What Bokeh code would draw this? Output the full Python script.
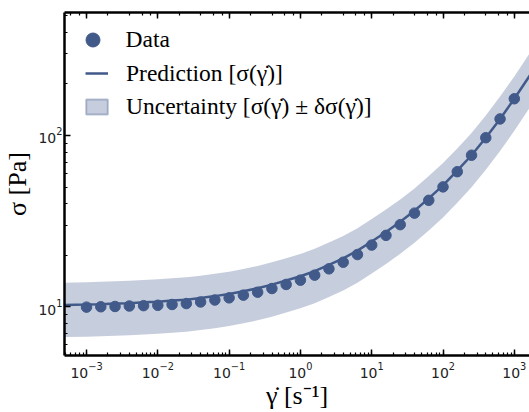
from bokeh.plotting import figure
from bokeh.models import Range1d, LogAxis, Legend, LegendItem
from bokeh.embed import file_html
from bokeh.resources import INLINE

# ---- data ----
shear_rate = [1.000e-3, 1.585e-3, 2.512e-3, 3.981e-3, 6.310e-3,
              1.000e-2, 1.585e-2, 2.512e-2, 3.981e-2, 6.310e-2,
              1.000e-1, 1.585e-1, 2.512e-1, 3.981e-1, 6.310e-1,
              1.000e0, 1.585e0, 2.512e0, 3.981e0, 6.310e0,
              1.000e1, 1.585e1, 2.512e1, 3.981e1, 6.310e1,
              1.000e2, 1.585e2, 2.512e2, 3.981e2, 6.310e2, 1.000e3]
stress_data = [9.96, 10.01, 10.05, 10.11, 10.16, 10.21, 10.32, 10.45, 10.68, 10.96,
               11.28, 11.70, 12.17, 12.79, 13.51, 14.31, 15.31, 16.66, 18.21, 20.19,
               22.93, 26.13, 30.17, 35.22, 41.84, 50.12, 61.48, 76.68, 97.03, 124.9, 163.8]

pred_rate = [4.9e-4] + shear_rate + [1.66e3]
pred_stress = [10.25, 10.31, 10.36, 10.45, 10.51, 10.62, 10.72, 10.88, 11.01, 11.26, 11.55,
               11.89, 12.33, 12.83, 13.48, 14.24, 15.08, 16.14, 17.56, 19.19, 21.28,
               24.08, 27.36, 31.38, 36.38, 42.93, 51.12, 62.28, 76.68, 97.03, 124.9, 163.8, 225.0]
band_upper = [13.84, 13.92, 13.99, 14.11, 14.19, 14.34, 14.47, 14.69, 14.86, 15.20, 15.59,
              16.05, 16.65, 17.32, 18.20, 19.22, 20.36, 21.79, 23.71, 25.91, 28.73,
              32.51, 36.94, 42.36, 49.11, 57.96, 69.01, 84.08, 103.5, 131.0, 168.6, 221.1, 303.8]
band_lower = [6.66, 6.70, 6.73, 6.79, 6.83, 6.90, 6.97, 7.07, 7.16, 7.32, 7.51,
              7.73, 8.01, 8.34, 8.76, 9.26, 9.80, 10.49, 11.41, 12.47, 13.83,
              15.65, 17.78, 20.40, 23.65, 27.90, 33.23, 40.48, 49.84, 63.07, 81.19, 106.5, 146.3]

labels = ["Data", "Prediction [σ(γ̇)]", "Uncertainty [σ(γ̇) ± δσ(γ̇)]"]

C = "#415a8a"
SERIF = "Liberation Serif"

p = figure(width=529, height=412, x_axis_type="log", y_axis_type="log",
           x_range=Range1d(4.91e-4, 1.633e3), y_range=Range1d(5.2, 522),
           output_backend="svg", toolbar_location=None,
           min_border_left=64, min_border_right=0, min_border_top=12, min_border_bottom=49)
p.outline_line_color = None
p.grid.visible = False

xax = p.below[0]
yax = p.left[0]
top = LogAxis()
p.add_layout(top, "above")

for ax in (xax, yax, top):
    ax.axis_line_width = 2.5
    ax.axis_line_color = "black"
    ax.major_tick_in = 6
    ax.major_tick_out = 0
    ax.minor_tick_in = 3
    ax.minor_tick_out = 0
    ax.major_tick_line_width = 1.5
    ax.minor_tick_line_width = 1.2
    ax.major_tick_line_color = "black"
    ax.minor_tick_line_color = "black"
    ax.major_label_text_font = "DejaVu Sans"
    ax.axis_label_text_font = SERIF
    ax.axis_label_text_font_style = "normal"
    ax.axis_label_text_color = "black"
    ax.major_label_text_color = "#222222"
top.major_label_text_font_size = "1px"
top.major_label_text_color = None
top.major_label_standoff = 0

xax.axis_label = "γ̇ [s⁻¹]"
yax.axis_label = "σ [Pa]"
xax.axis_label_text_font_size = "26px"
yax.axis_label_text_font_size = "26px"
xax.major_label_text_font_size = "14px"
yax.major_label_text_font_size = "14px"
xax.major_label_standoff = 6
yax.major_label_standoff = 2
xax.axis_label_standoff = 0
yax.axis_label_standoff = 3

r_band = p.varea(x=pred_rate, y1=band_lower, y2=band_upper, fill_color=C, fill_alpha=0.3)
r_line = p.line(pred_rate, pred_stress, line_color=C, line_width=2.5)
r_pts = p.scatter(shear_rate, stress_data, size=10.5, fill_color=C, line_color=C)
# legend-only swatch for the uncertainty band (not drawn in the plot area)
r_box = p.quad(left=pred_rate[:1], right=pred_rate[-1:], bottom=band_lower[:1],
               top=band_upper[:1], fill_color=C, fill_alpha=0.3,
               line_color=C, line_alpha=0.35, line_width=2, visible=False)

def mk_legend(label, rend, loc, gw, gh, standoff):
    lg = Legend(items=[LegendItem(label=label, renderers=[rend])], location=loc,
                glyph_width=gw, glyph_height=gh, label_standoff=standoff,
                padding=0, margin=0, spacing=0, border_line_color=None,
                background_fill_alpha=0, label_text_font=SERIF,
                label_text_font_size="23.5px", label_text_color="black",
                label_height=gh, click_policy="none")
    p.add_layout(lg)

mk_legend(labels[0], r_pts, (10.5, 298), 35, 35, 16)
mk_legend(labels[1], r_line, (21, 268), 23, 28, 18)
mk_legend(labels[2], r_box, (19, 235), 27, 19, 16)

open("out.html", "w").write(file_html(p, INLINE))
